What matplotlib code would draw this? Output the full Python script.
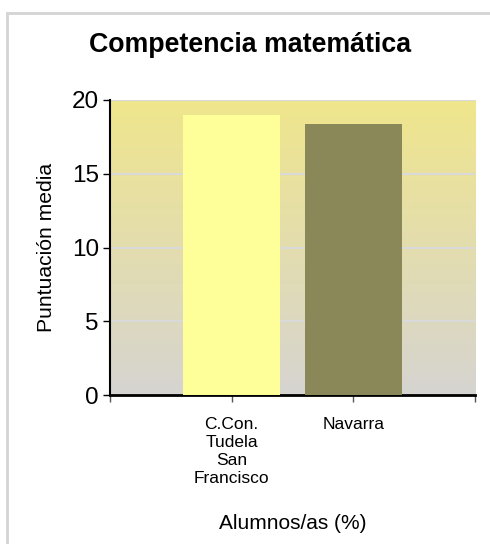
import matplotlib
matplotlib.use("Agg")
import matplotlib.pyplot as plt
import matplotlib.patches as mpatches
import numpy as np

# data
categorias = ["C.Con.\nTudela\nSan\nFrancisco", "Navarra"]
valores = [19.0, 18.4]
colores = ["#FFFF99", "#8A8858"]
y_ticks = [0, 5, 10, 15, 20]

plt.rcParams['font.family'] = ['Liberation Sans', 'DejaVu Sans']

fig = plt.figure(figsize=(4.9, 5.44), dpi=100)
ax = fig.add_axes([110 / 490, 149 / 544, 365 / 490, 295 / 544])

# gradient background of the plot area (khaki on top, gray at bottom)
top = np.array([240, 230, 140]) / 255
bottom = np.array([214, 212, 209]) / 255
t = np.linspace(0, 1, 256)[:, None]
grad = (top * (1 - t) + bottom * t)[:, None, :]
ax.imshow(grad, extent=[0, 3, 0, 20], aspect='auto', zorder=0, interpolation='bilinear')

x = np.arange(1, len(categorias) + 1)
ax.bar(x, valores, width=0.8, color=colores, zorder=3)

for v in y_ticks[1:]:
    ax.axhline(v, color='#D9D9D9', lw=1.5, zorder=1)

ax.set_xlim(0, 3)
ax.set_ylim(0, 20)
ax.set_yticks(y_ticks)
ax.set_xticks([0, 1, 2, 3])
ax.set_xticklabels([''] + categorias + [''], fontsize=12.5, linespacing=1.25)
ax.tick_params(axis='y', labelsize=17.5, length=5, width=1, direction='out', pad=3)
ax.tick_params(axis='x', length=5, width=1, direction='out', pad=10.5, color='#555555')

for s in ['top', 'right']:
    ax.spines[s].set_visible(False)
ax.spines['left'].set_linewidth(1.5)
ax.spines['bottom'].set_linewidth(2)

ax.set_ylabel('Puntuación media', fontsize=15.2, labelpad=11)
ax.set_xlabel('Alumnos/as (%)', fontsize=15, labelpad=20.5)

fig.text(250 / 490, 1 - 45 / 544, 'Competencia matemática', ha='center', va='center',
         fontsize=19.3, fontweight='bold')

# light border around the chart
fig.patches.append(mpatches.Rectangle((7 / 490, -0.1), 1.2, (544 - 13) / 544 + 0.1,
                                      transform=fig.transFigure, fill=False,
                                      edgecolor='#D4D4D4', lw=2))

fig.savefig('out.png', dpi=100)
